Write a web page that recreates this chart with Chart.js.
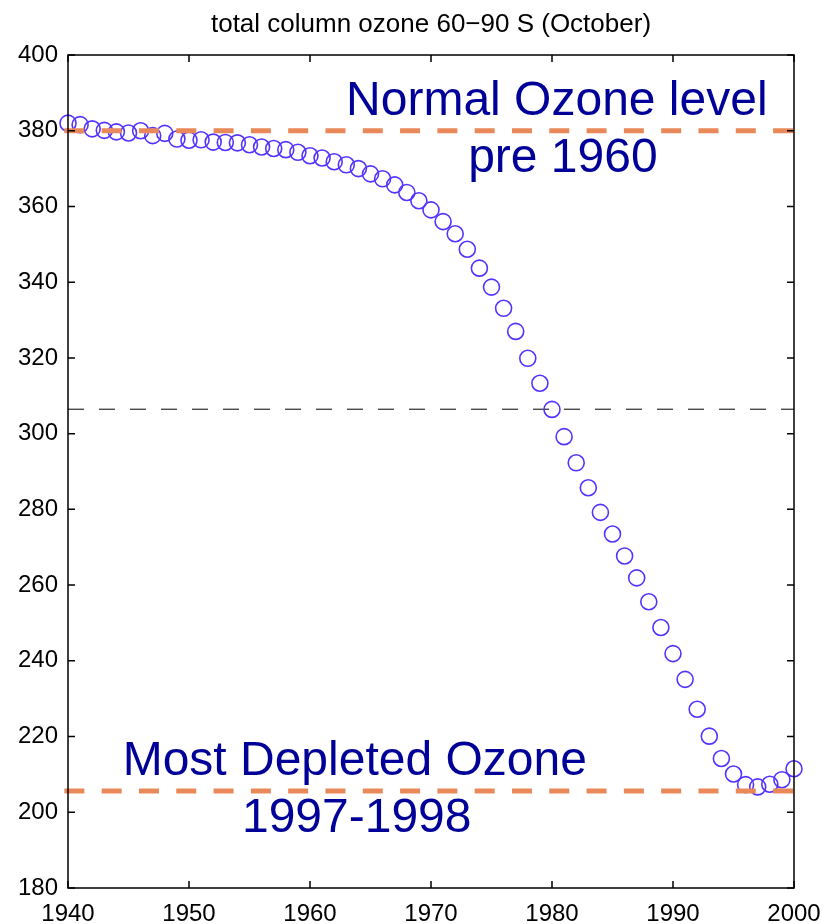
<!DOCTYPE html>
<html><head><meta charset="utf-8">
<script src="https://cdn.jsdelivr.net/npm/chart.js@4/dist/chart.umd.min.js"></script>
<style>html,body{margin:0;padding:0;background:#fff}#wrap{width:823px;height:924px}</style>
</head><body><div id="wrap"><canvas id="c" width="823" height="924"></canvas></div>
<script>
const years = [1940,1941,1942,1943,1944,1945,1946,1947,1948,1949,
               1950,1951,1952,1953,1954,1955,1956,1957,1958,1959,
               1960,1961,1962,1963,1964,1965,1966,1967,1968,1969,
               1970,1971,1972,1973,1974,1975,1976,1977,1978,1979,
               1980,1981,1982,1983,1984,1985,1986,1987,1988,1989,
               1990,1991,1992,1993,1994,1995,1996,1997,1998,1999,2000];
const ozone = [382.0,381.6,380.5,380.1,379.7,379.4,380.0,378.7,379.3,377.8,
               377.5,377.6,377.0,376.9,376.8,376.3,375.7,375.3,375.0,374.3,
               373.4,372.8,371.8,371.0,370.0,368.6,367.3,365.7,363.7,361.5,
               359.1,356.0,352.8,348.7,343.7,338.7,333.1,327.0,319.9,313.3,
               306.4,299.2,292.3,285.7,279.2,273.5,267.7,261.9,255.6,248.8,
               241.9,235.1,227.2,220.1,214.2,210.1,207.3,206.7,207.4,208.6,211.5];
const normalLevel = 380;
const depletedLevel = 205.6;
const referenceLevel = 306.45;
const orangeSpan = [1939.7, 2000];
const referenceSpan = [1940, 2000];
const xTicks = [1940,1950,1960,1970,1980,1990,2000];
const yTicks = [180,200,220,240,260,280,300,320,340,360,380,400];
const titleText = 'total column ozone 60\u221290 S (October)';
const notes = [
  {text:'Normal Ozone level', x:1980.4, y:384.2},
  {text:'pre 1960', x:1980.9, y:369.2},
  {text:'Most Depleted Ozone', x:1963.7, y:209.8},
  {text:'1997-1998', x:1963.86, y:194.8}
];

const FONT = '"Liberation Sans", Arial, Helvetica, sans-serif';

const framePlugin = {
  id:'frame',
  afterDatasetsDraw(chart){
    const {ctx, chartArea:a, scales:{x,y}} = chart;
    ctx.save();
    ctx.strokeStyle = '#000';
    ctx.lineWidth = 1.5;
    ctx.strokeRect(a.left, a.top, a.right-a.left, a.bottom-a.top);
    const L = 7;
    ctx.beginPath();
    xTicks.forEach(v=>{
      const px = x.getPixelForValue(v);
      ctx.moveTo(px, a.bottom); ctx.lineTo(px, a.bottom-L);
      ctx.moveTo(px, a.top); ctx.lineTo(px, a.top+L);
    });
    yTicks.forEach(v=>{
      const py = y.getPixelForValue(v);
      ctx.moveTo(a.left, py); ctx.lineTo(a.left+L, py);
      ctx.moveTo(a.right, py); ctx.lineTo(a.right-L, py);
    });
    ctx.stroke();
    ctx.restore();
  },
  afterDraw(chart){
    const {ctx, chartArea:a, scales:{x,y}} = chart;
    ctx.save();
    ctx.fillStyle = '#000';
    ctx.font = '26px ' + FONT;
    ctx.textAlign = 'center';
    ctx.textBaseline = 'middle';
    ctx.fillText(titleText, (a.left+a.right)/2, 25);
    ctx.fillStyle = '#000099';
    ctx.font = '48px ' + FONT;
    ctx.textBaseline = 'alphabetic';
    notes.forEach(n=>{
      ctx.fillText(n.text, x.getPixelForValue(n.x), y.getPixelForValue(n.y));
    });
    ctx.restore();
  }
};

new Chart(document.getElementById('c'), {
  type:'scatter',
  data:{
    datasets:[
      {
        label:'normal', type:'line', order:0,
        data: orangeSpan.map(v=>({x:v, y:normalLevel})),
        borderColor:'rgb(233,137,90)', borderWidth:5, borderDash:[20,17.3],
        pointRadius:0, fill:false, clip:false
      },
      {
        label:'depleted', type:'line', order:0,
        data: orangeSpan.map(v=>({x:v, y:depletedLevel})),
        borderColor:'rgb(233,137,90)', borderWidth:5, borderDash:[20,17.3],
        pointRadius:0, fill:false, clip:false
      },
      {
        label:'ozone', order:1,
        data: years.map((yr,i)=>({x:yr, y:ozone[i]})),
        showLine:false,
        pointStyle:'circle', pointRadius:8,
        pointBorderWidth:1.6, pointBorderColor:'#5533ff',
        pointBackgroundColor:'rgba(0,0,0,0)', clip:false
      },
      {
        label:'reference', type:'line', order:2,
        data: referenceSpan.map(v=>({x:v, y:referenceLevel})),
        borderColor:'#000', borderWidth:1, borderDash:[16,15],
        pointRadius:0, fill:false
      }
    ]
  },
  options:{
    responsive:false, animation:false, devicePixelRatio:1,
    layout:{padding:{top:55, right:29, left:0, bottom:0}},
    plugins:{legend:{display:false}, tooltip:{enabled:false}, title:{display:false}},
    scales:{
      x:{
        type:'linear', min:1940, max:2000,
        afterBuildTicks(s){ s.ticks = xTicks.map(v=>({value:v})); },
        afterFit(s){ s.height = 36; s.paddingLeft = 0; s.paddingRight = 0; },
        grid:{display:false, drawTicks:false},
        border:{display:false},
        ticks:{color:'#000', font:{size:24, family:FONT}, padding:12, maxRotation:0, autoSkip:false,
               callback:v=>String(v)}
      },
      y:{
        type:'linear', min:180, max:400,
        afterBuildTicks(s){ s.ticks = yTicks.map(v=>({value:v})); },
        afterFit(s){ s.width = 68; },
        grid:{display:false, drawTicks:false},
        border:{display:false},
        ticks:{color:'#000', font:{size:24, family:FONT}, padding:10, autoSkip:false,
               callback:v=>String(v)}
      }
    }
  },
  plugins:[framePlugin]
});
</script>
</body></html>
